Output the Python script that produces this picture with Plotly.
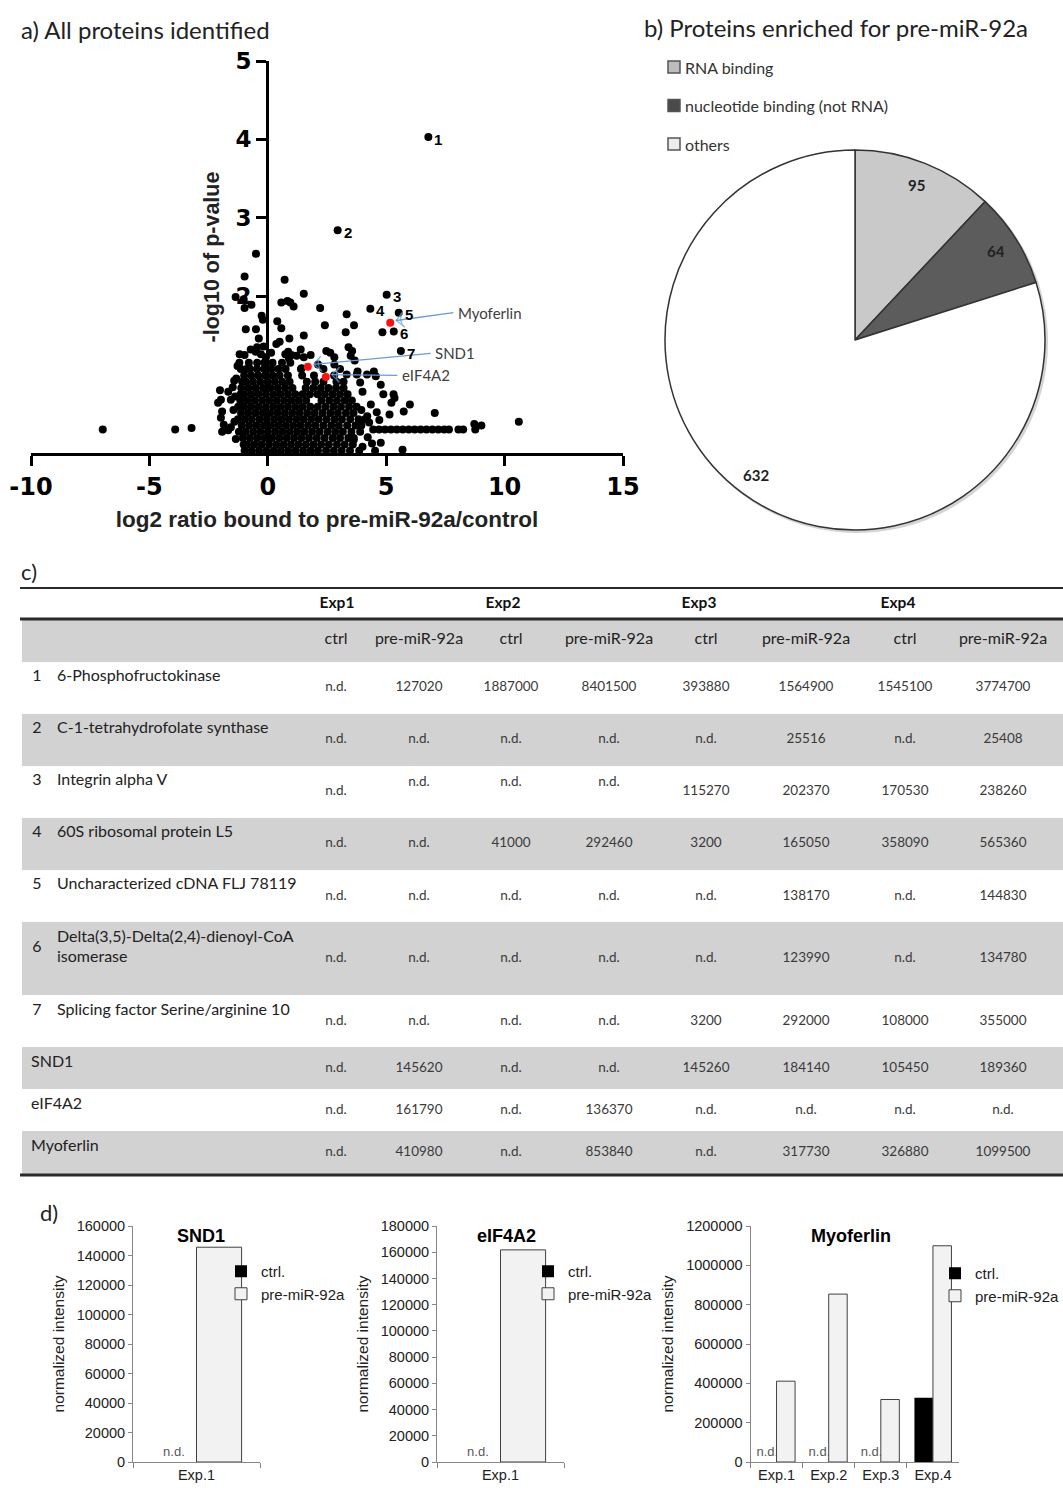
import math
import plotly.graph_objects as go

W, H = 1063, 1488
def px(v): return v / W
def py(v): return 1 - v / H

FONT_T = "Lato, 'Open Sans', sans-serif"
FONT_A = "'Liberation Sans', Arial, sans-serif"
FONT_D = "'DejaVu Sans', sans-serif"

# ---------------- a) volcano data ----------------
cloud_row_y = [0.03, 0.11, 0.19, 0.27, 0.35, 0.43, 0.51, 0.59, 0.67, 0.75, 0.83, 0.91, 0.99, 1.07, 1.15]
cloud_row_x = [
    [-0.98, -0.68, -0.37, -0.06, 0.25, 0.55, 0.86, 1.17, 1.49, 1.81, 2.12, 2.46, 2.79, 3.12, 3.47, 3.86],
    [-1.02, -0.87, -0.57, -0.26, 0.05, 0.36, 0.67, 0.98, 1.29, 1.61, 1.93, 2.25, 2.58, 2.92, 3.25, 3.59],
    [-1.05, -0.75, -0.44, -0.13, 0.18, 0.49, 0.80, 1.11, 1.42, 1.74, 2.07, 2.40, 2.74, 3.05, 3.40, 3.63],
    [-1.22, -0.93, -0.62, -0.31, 0.00, 0.31, 0.62, 0.93, 1.24, 1.55, 1.87, 2.19, 2.53, 2.85, 3.17, 3.53, 3.90],
    [-1.10, -0.79, -0.48, -0.17, 0.14, 0.45, 0.76, 1.07, 1.38, 1.70, 2.02, 2.35, 2.68, 3.00, 3.35, 3.70],
    [-1.26, -0.97, -0.67, -0.35, -0.04, 0.27, 0.58, 0.89, 1.20, 1.51, 1.83, 2.15, 2.48, 2.81, 3.13, 3.48, 3.83, 4.10],
    [-1.13, -0.83, -0.52, -0.21, 0.10, 0.41, 0.72, 1.03, 1.34, 1.66, 1.98, 2.31, 2.64, 2.96, 3.30, 3.62],
    [-1.25, -1.00, -0.70, -0.39, -0.08, 0.23, 0.54, 0.85, 1.16, 1.47, 1.79, 2.11, 2.44, 2.77, 3.09, 3.43, 3.75],
    [-1.16, -0.86, -0.55, -0.24, 0.07, 0.38, 0.69, 1.00, 1.31, 1.62, 2.27, 2.60, 2.92, 3.25, 3.55],
    [-1.15, -1.00, -0.70, -0.39, -0.08, 0.23, 0.54, 0.85, 1.16, 1.47, 1.78, 2.10, 2.41, 2.73, 3.05, 3.37],
    [-1.12, -0.82, -0.51, -0.20, 0.11, 0.42, 0.73, 1.04, 1.60, 1.92, 2.24, 2.56, 2.88, 3.20],
    [-1.08, -0.93, -0.63, -0.32, -0.01, 0.30, 0.61, 0.92, 1.65, 2.00, 2.35, 2.90, 3.20],
    [-1.00, -0.70, -0.40, -0.10, 0.20, 0.50, 0.85, 1.45, 1.95, 2.80],
    [-0.90, -0.75, -0.45, -0.15, 0.15, 0.45, 0.75, 1.40, 2.35, 3.05],
    [-1.20, -0.80, -0.45, -0.15, 0.20, 0.60, 0.95],
]
cloud_extra = [
    (-0.50, 2.54), (-0.98, 2.25), (0.71, 2.21), (1.52, 2.03), (-1.36, 1.99), (-1.02, 1.96), (-0.98, 1.85),
    (-0.69, 1.89), (0.57, 1.92), (0.83, 1.94), (0.95, 1.92), (1.09, 1.87), (2.21, 1.85), (3.33, 1.77),
    (3.64, 1.63), (3.29, 1.54), (2.41, 1.63), (1.52, 1.50), (-0.26, 1.75), (-0.21, 1.70), (0.40, 1.68),
    (0.57, 1.59), (-0.93, 1.58), (-0.50, 1.58), (-0.38, 1.46), (0.91, 1.46), (0.36, 1.39), (0.50, 1.42),
    (3.41, 1.35), (2.64, 1.28), (2.47, 1.30), (-1.19, 1.26), (-0.98, 1.25), (-0.72, 1.32), (-0.51, 1.29),
    (-0.45, 1.35), (-0.29, 1.26), (-0.18, 1.36), (-0.08, 1.22), (0.14, 1.28), (0.74, 1.26), (0.86, 1.29),
    (1.00, 1.25), (1.22, 1.24), (1.39, 1.32), (1.52, 1.22), (1.81, 1.25), (2.81, 1.22), (3.50, 1.24),
    (3.67, 1.18), (3.56, 1.30), (-1.28, 1.11), (-1.14, 1.07), (-1.33, 0.95), (-1.48, 0.84), (0.89, 1.21),
    (1.43, 1.08), (2.12, 1.13), (2.81, 1.13), (3.79, 1.04), (4.48, 1.04), (4.56, 0.98), (3.33, 1.00),
    (3.76, 1.00), (4.19, 1.00), (4.84, 1.54),
    (-2.02, 0.80), (-1.67, 0.78), (-1.98, 0.68), (-1.56, 0.68), (-2.10, 0.64), (-1.93, 0.53), (-1.98, 0.45),
    (-1.45, 0.55), (-1.41, 0.40), (-1.86, 0.36), (-1.56, 0.33), (-1.93, 0.27), (-1.67, 0.29), (-1.35, 0.18),
    (-1.38, 0.72), (-1.42, 0.92),
    (-6.97, 0.30), (-3.91, 0.30), (-3.22, 0.32), (10.60, 0.40), (7.05, 0.51),
    (4.88, 0.75), (5.31, 0.75), (5.22, 0.64), (6.00, 0.62), (5.74, 0.53), (4.77, 0.87), (5.35, 0.70),
    (4.28, 0.39), (4.71, 0.42), (5.14, 0.49), (3.95, 0.55), (4.20, 0.47), (4.00, 0.78), (3.90, 0.90),
    (4.35, 0.62), (4.60, 0.52), (3.63, 0.17), (4.22, 0.20), (4.77, 0.13), (5.69, 0.04), (4.53, 0.03),
    (4.00, 0.08), (4.40, 0.12), (3.95, 0.35),
    (4.45, 0.30), (4.70, 0.30), (4.95, 0.30), (5.20, 0.30), (5.45, 0.30), (5.70, 0.30), (5.95, 0.30),
    (6.20, 0.30), (6.45, 0.30), (6.70, 0.30), (6.95, 0.30), (7.20, 0.30), (7.45, 0.30), (7.65, 0.30),
    (8.05, 0.30), (8.25, 0.30), (8.76, 0.30), (8.72, 0.37), (9.02, 0.35),
]
numbered_labels = ["1", "2", "3", "4", "5", "6", "7"]
numbered_x = [6.78, 2.95, 5.02, 4.33, 5.53, 5.32, 5.62]
numbered_y = [4.03, 2.84, 2.02, 1.84, 1.79, 1.55, 1.30]
highlight_names = ["Myoferlin", "SND1", "eIF4A2"]
highlight_x = [5.17, 1.69, 2.45]
highlight_y = [1.66, 1.10, 0.97]
volcano_xticks = [-10, -5, 0, 5, 10, 15]
volcano_xticktext = ["-10", "-5", "0", "5", "10", "15"]
volcano_yticks = [2, 3, 4, 5]

# ---------------- b) pie data ----------------
pie_labels = ["RNA binding", "nucleotide binding (not RNA)", "others"]
pie_values = [95, 64, 632]
pie_colors = ["#c9c9c9", "#5c5c5c", "#ffffff"]

# ---------------- c) table data ----------------
exp_names = ["Exp1", "Exp2", "Exp3", "Exp4"]
cond_names = ["ctrl", "pre-miR-92a"]
tbl_numbers = ["1", "2", "3", "4", "5", "6", "7", "", "", ""]
tbl_names = ["6-Phosphofructokinase", "C-1-tetrahydrofolate synthase", "Integrin alpha V",
             "60S ribosomal protein L5", "Uncharacterized cDNA FLJ 78119",
             "Delta(3,5)-Delta(2,4)-dienoyl-CoA<br>isomerase", "Splicing factor Serine/arginine 10",
             "SND1", "eIF4A2", "Myoferlin"]
tbl_values = [
    ["n.d.", "127020", "1887000", "8401500", "393880", "1564900", "1545100", "3774700"],
    ["n.d.", "n.d.", "n.d.", "n.d.", "n.d.", "25516", "n.d.", "25408"],
    ["n.d.", "n.d.", "n.d.", "n.d.", "115270", "202370", "170530", "238260"],
    ["n.d.", "n.d.", "41000", "292460", "3200", "165050", "358090", "565360"],
    ["n.d.", "n.d.", "n.d.", "n.d.", "n.d.", "138170", "n.d.", "144830"],
    ["n.d.", "n.d.", "n.d.", "n.d.", "n.d.", "123990", "n.d.", "134780"],
    ["n.d.", "n.d.", "n.d.", "n.d.", "3200", "292000", "108000", "355000"],
    ["n.d.", "145620", "n.d.", "n.d.", "145260", "184140", "105450", "189360"],
    ["n.d.", "161790", "n.d.", "136370", "n.d.", "n.d.", "n.d.", "n.d."],
    ["n.d.", "410980", "n.d.", "853840", "n.d.", "317730", "326880", "1099500"],
]

# ---------------- d) bar data ----------------
snd1_cats = ["Exp.1"]
snd1_ctrl = [None]
snd1_pre = [145620]
eif_cats = ["Exp.1"]
eif_ctrl = [None]
eif_pre = [161790]
myo_cats = ["Exp.1", "Exp.2", "Exp.3", "Exp.4"]
myo_ctrl = [None, None, None, 326880]
myo_pre = [410980, 853840, 317730, 1099500]

fig = go.Figure()

def ann(x, y, text, font, xanchor="center", yanchor="middle", **kw):
    fig.add_annotation(x=x, y=y, text=text, showarrow=False, xanchor=xanchor, yanchor=yanchor,
                       font=font, **kw)

# ---------- panel a ----------
cloud_x = [x for xs in cloud_row_x for x in xs] + [p[0] for p in cloud_extra]
cloud_y = [y for y, xs in zip(cloud_row_y, cloud_row_x) for _ in xs] + [p[1] for p in cloud_extra]
fig.add_trace(go.Scatter(x=cloud_x + numbered_x, y=cloud_y + numbered_y, mode="markers",
                         marker=dict(color="black", size=8), xaxis="x", yaxis="y",
                         showlegend=False, hoverinfo="skip", cliponaxis=False))
fig.add_trace(go.Scatter(x=highlight_x, y=highlight_y, mode="markers",
                         marker=dict(color="#ff1010", size=8), xaxis="x", yaxis="y",
                         showlegend=False, hoverinfo="skip", cliponaxis=False))
for lab, x, y in zip(numbered_labels, numbered_x, numbered_y):
    ann(x, y, lab, dict(family=FONT_A, size=15, color="black", weight="bold"),
        xanchor="left", xref="x", yref="y", xshift=4, yshift=-2)

label_pos_x = [7.94, 6.98, 5.57]
label_pos_y = [1.79, 1.27, 0.99]
arrow_col = "#6c9bd3"
for name, hx, hy, lx, ly in zip(highlight_names, highlight_x, highlight_y, label_pos_x, label_pos_y):
    fig.add_trace(go.Scatter(x=[lx - 0.1, hx + 0.25], y=[ly, hy + 0.03], mode="lines+markers",
                             line=dict(color=arrow_col, width=1.3),
                             marker=dict(symbol="arrow-wide-open", size=[0, 11], angleref="previous",
                                         color=arrow_col, line=dict(width=1.3, color=arrow_col)),
                             xaxis="x", yaxis="y", showlegend=False, hoverinfo="skip", cliponaxis=False))
    ann(lx, ly, name, dict(family=FONT_T, size=15, color="#404040"), xanchor="left", xref="x", yref="y")

# ---------- panel b ----------
fig.add_shape(type="circle", xref="paper", yref="paper", x0=px(666), x1=px(1048), y0=py(533), y1=py(151),
              fillcolor="#d4d4d4", line=dict(width=0), layer="below")
fig.add_trace(go.Pie(values=pie_values, labels=pie_labels, sort=False, direction="clockwise", rotation=0,
                     marker=dict(colors=pie_colors, line=dict(color="#333333", width=1.5)),
                     textinfo="none", hoverinfo="skip", showlegend=False,
                     domain=dict(x=[px(665), px(1045)], y=[py(530), py(150)])))
tot = sum(pie_values)
cum = 0
cx, cy, rr = 855, 340, 190
for v in pie_values:
    a = 2 * math.pi * (cum + v / 2) / tot
    cum += v
    ann(px(cx + 0.88 * rr * math.sin(a)), py(cy - 0.88 * rr * math.cos(a)), str(v),
        dict(family=FONT_T, size=15, color="#222222", weight="bold"), xref="paper", yref="paper")
legend_sq = ["#bdbdbd", "#4a4a4a", "#ececec"]
for i, (lab, col) in enumerate(zip(pie_labels, legend_sq)):
    yc = 67 + 38.5 * i
    fig.add_shape(type="rect", xref="paper", yref="paper", x0=px(668), x1=px(680), y0=py(yc + 6), y1=py(yc - 6),
                  fillcolor=col, line=dict(color="#555555", width=1.5))
    ann(px(683), py(yc), lab, dict(family=FONT_T, size=16, color="#333333"), xanchor="left",
        xref="paper", yref="paper")

# ---------- titles ----------
ann(px(19), py(29), "a) All proteins identified", dict(family=FONT_T, size=24, color="#222222"),
    xanchor="left", xref="paper", yref="paper")
ann(px(642), py(27), "b) Proteins enriched for pre-miR-92a", dict(family=FONT_T, size=24, color="#222222"),
    xanchor="left", xref="paper", yref="paper")
ann(px(19), py(571), "c)", dict(family=FONT_T, size=22, color="#222222"), xanchor="left", xref="paper", yref="paper")
ann(px(38), py(1212), "d)", dict(family=FONT_T, size=22, color="#222222"), xanchor="left", xref="paper", yref="paper")

# ---------- panel c (table on a pixel-unit axis) ----------
col_x = [336, 419, 511, 609, 706, 806, 905, 1003]
exp_x = [337, 503, 699, 898]
row_tops = [662, 714, 766, 818, 870, 922, 995, 1047, 1089, 1131, 1175]
name_y = [677, 729, 781, 833, 885, 948, 1011, 1063, 1105, 1147]
val_y = [688, 740, 792, 844, 897, 959, 1022, 1069, 1111, 1153]
raised = {2: [1, 2, 3]}
grey = "#d2d2d2"
fig.add_shape(type="rect", xref="x5", yref="y5", x0=22, x1=1063, y0=619, y1=662, fillcolor=grey,
              line=dict(width=0), layer="below")
for i in [1, 3, 5, 7, 9]:
    fig.add_shape(type="rect", xref="x5", yref="y5", x0=22, x1=1063, y0=row_tops[i], y1=row_tops[i + 1],
                  fillcolor=grey, line=dict(width=0), layer="below")
for yl, wd in [(588, 2), (619, 3), (1175, 3)]:
    fig.add_shape(type="line", xref="x5", yref="y5", x0=20, x1=1063, y0=yl, y1=yl,
                  line=dict(color="#2a2a2a", width=wd))

fig.add_trace(go.Scatter(x=exp_x, y=[604] * 4, text=exp_names, mode="text", xaxis="x5", yaxis="y5",
                         textfont=dict(family=FONT_T, size=15.5, color="#111111", weight="bold"),
                         showlegend=False, hoverinfo="skip", cliponaxis=False))
fig.add_trace(go.Scatter(x=col_x, y=[640] * 8, text=cond_names * 4, mode="text", xaxis="x5", yaxis="y5",
                         textfont=dict(family=FONT_T, size=16, color="#222222"),
                         showlegend=False, hoverinfo="skip", cliponaxis=False))
num_rows = [i for i, n in enumerate(tbl_numbers) if n]
fig.add_trace(go.Scatter(x=[37] * len(num_rows), y=[name_y[i] for i in num_rows],
                         text=[tbl_numbers[i] for i in num_rows], mode="text", xaxis="x5", yaxis="y5",
                         textfont=dict(family=FONT_T, size=16, color="#222222"),
                         showlegend=False, hoverinfo="skip", cliponaxis=False))
fig.add_trace(go.Scatter(x=[57 if n else 31 for n in tbl_numbers], y=name_y, text=tbl_names, mode="text",
                         textposition="middle right", xaxis="x5", yaxis="y5",
                         textfont=dict(family=FONT_T, size=16, color="#222222"),
                         showlegend=False, hoverinfo="skip", cliponaxis=False))
vx, vy, vt = [], [], []
for r, row in enumerate(tbl_values):
    for c, val in enumerate(row):
        vx.append(col_x[c])
        vy.append(783 if c in raised.get(r, []) else val_y[r])
        vt.append(val)
fig.add_trace(go.Scatter(x=vx, y=vy, text=vt, mode="text", xaxis="x5", yaxis="y5",
                         textfont=dict(family=FONT_T, size=13.5, color="#3a3a3a"),
                         showlegend=False, hoverinfo="skip", cliponaxis=False))

# ---------- panel d ----------
bar_fill = "#f2f2f2"
bar_line = "#404040"
def add_bars(cats, ctrl, pre, xa, ya, leg):
    fig.add_trace(go.Bar(x=cats, y=[0 if v is None else v for v in ctrl], name="ctrl.",
                         text=["n.d." if v is None else "" for v in ctrl], textposition="outside",
                         constraintext="none", cliponaxis=False,
                         textfont=dict(family=FONT_A, size=13, color="#595959"),
                         marker=dict(color="black", line=dict(width=0)),
                         xaxis=xa, yaxis=ya, legend=leg, hoverinfo="skip"))
    fig.add_trace(go.Bar(x=cats, y=pre, name="pre-miR-92a",
                         marker=dict(color=bar_fill, line=dict(color=bar_line, width=1)),
                         xaxis=xa, yaxis=ya, legend=leg, hoverinfo="skip"))

add_bars(snd1_cats, snd1_ctrl, snd1_pre, "x2", "y2", "legend")
add_bars(eif_cats, eif_ctrl, eif_pre, "x3", "y3", "legend2")
add_bars(myo_cats, myo_ctrl, myo_pre, "x4", "y4", "legend3")

bar_titles = [("SND1", 201), ("eIF4A2", 506), ("Myoferlin", 851)]
for t, xc in bar_titles:
    ann(px(xc), py(1236), t, dict(family=FONT_A, size=18, color="black", weight="bold"),
        xref="paper", yref="paper")

dom_y = [py(1462), py(1226)]
def bar_xaxis(x0, x1, n, ya):
    return dict(domain=[px(x0), px(x1)], anchor=ya, type="category", range=[-0.5, n - 0.5],
                showline=True, linecolor="#868686", linewidth=1, ticks="outside", tickson="boundaries",
                ticklen=5, tickcolor="#868686", showgrid=False, zeroline=False, automargin=False,
                tickfont=dict(family=FONT_A, size=14.5, color="#222222"), fixedrange=True)
def bar_yaxis(xa, top, dt):
    return dict(domain=dom_y, anchor=xa, range=[0, top], dtick=dt, tick0=0, tickformat="d", showline=True,
                linecolor="#868686", linewidth=1, ticks="outside", ticklen=4, tickcolor="#868686",
                showgrid=False, zeroline=False, automargin=False,
                tickfont=dict(family=FONT_A, size=14.5, color="#222222"),
                title=dict(text="normalized intensity", font=dict(family=FONT_A, size=15.5, color="#222222"),
                           standoff=8), fixedrange=True)

leg_common = dict(xanchor="left", yanchor="top", bgcolor="rgba(0,0,0,0)", borderwidth=0,
                  font=dict(family=FONT_A, size=15, color="#222222"), tracegroupgap=0, itemwidth=30)

fig.update_layout(
    width=W, height=H, margin=dict(l=0, r=0, t=0, b=0, autoexpand=False),
    paper_bgcolor="white", plot_bgcolor="white",
    barmode="group", bargap=0.29, bargroupgap=0,
    xaxis=dict(domain=[px(31), px(623)], range=[-10, 15], anchor="y", tickmode="array",
               tickvals=volcano_xticks, ticktext=volcano_xticktext,
               ticks="outside", ticklen=10, tickwidth=3, tickcolor="black",
               showline=True, linewidth=3, linecolor="black", showgrid=False, zeroline=False, automargin=False,
               tickfont=dict(family=FONT_D, size=24, color="black", weight="bold"),
               title=dict(text="log2 ratio bound to pre-miR-92a/control",
                          font=dict(family=FONT_A, size=22.5, color="#222222", weight="bold"), standoff=12),
               fixedrange=True),
    yaxis=dict(domain=[py(453), py(61)], range=[0, 5], anchor="free", position=px(267), tickmode="array",
               tickvals=volcano_yticks, ticks="outside", ticklen=10, tickwidth=3, tickcolor="black",
               showline=True, linewidth=3, linecolor="black", showgrid=False, zeroline=False, automargin=False,
               tickfont=dict(family=FONT_D, size=23, color="black", weight="bold"),
               title=dict(text="-log10 of p-value",
                          font=dict(family=FONT_A, size=21.5, color="#222222", weight="bold"), standoff=8),
               fixedrange=True),
    xaxis2=bar_xaxis(133, 260, 1, "y2"), yaxis2=bar_yaxis("x2", 160000, 20000),
    xaxis3=bar_xaxis(437, 564, 1, "y3"), yaxis3=bar_yaxis("x3", 180000, 20000),
    xaxis4=bar_xaxis(750.5, 959, 4, "y4"), yaxis4=bar_yaxis("x4", 1200000, 200000),
    xaxis5=dict(domain=[0, 1], range=[0, W], visible=False, fixedrange=True, anchor="y5", automargin=False),
    yaxis5=dict(domain=[py(1180), py(560)], range=[1180, 560], visible=False, fixedrange=True, anchor="x5",
                automargin=False),
    legend=dict(x=px(221), y=py(1255), **leg_common),
    legend2=dict(x=px(528), y=py(1255), **leg_common),
    legend3=dict(x=px(935), y=py(1257), **leg_common),
)

fig.write_html("out.html", config={"displayModeBar": False},
               post_script="document.body.style.margin='0px';document.body.style.padding='0px';")
